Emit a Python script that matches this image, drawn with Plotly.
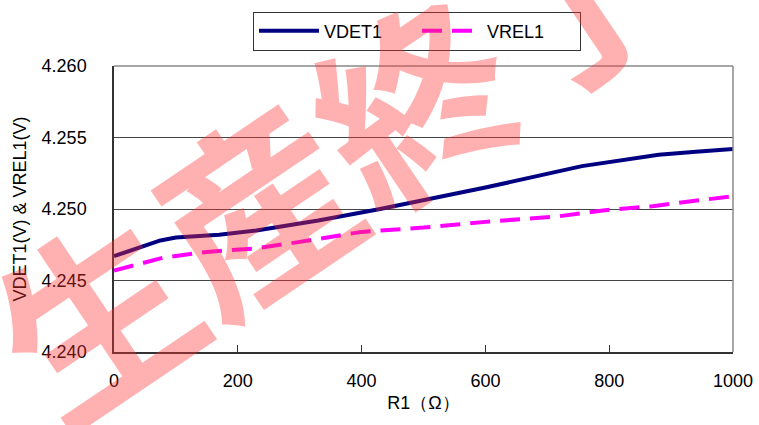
import plotly.graph_objects as go

# Detector / release voltage versus series resistor R1
r1_vdet = [0, 40, 75, 100, 170, 230, 330, 430, 500, 600, 756, 880, 940, 1000]
vdet1 = [4.2467, 4.2473, 4.2478, 4.2480, 4.2482, 4.2485, 4.2492, 4.2500,
         4.2506, 4.2515, 4.2530, 4.2538, 4.2540, 4.2542]

r1_vrel = [0, 80, 150, 230, 300, 400, 500, 600, 720, 790, 870, 1000]
vrel1 = [4.2457, 4.2466, 4.2470, 4.24725, 4.2477, 4.2484, 4.2487, 4.2491,
         4.2495, 4.2499, 4.2502, 4.2509]

y_ticks = [4.240, 4.245, 4.250, 4.255, 4.260]
y_tick_text = ["4.240", "4.245", "4.250", "4.255", "4.260"]
x_ticks = [0, 200, 400, 600, 800, 1000]

font_family = "Liberation Sans, Arial, sans-serif"

fig = go.Figure()
fig.add_trace(go.Scatter(
    x=r1_vdet, y=vdet1, mode="lines", name="VDET1",
    line=dict(color="#000080", width=4),
))
fig.add_trace(go.Scatter(
    x=r1_vrel, y=vrel1, mode="lines", name="VREL1",
    line=dict(color="#FF00FF", width=4, dash="20px,10px"),
))

fig.update_layout(
    width=759, height=425,
    margin=dict(l=114, r=26, t=66, b=73, autoexpand=False),
    paper_bgcolor="white", plot_bgcolor="white",
    font=dict(family=font_family, size=18, color="black"),
    showlegend=True,
    legend=dict(
        orientation="h", x=0.4895, xanchor="center", y=1.122, yanchor="middle",
        bordercolor="#333", borderwidth=1, bgcolor="rgba(255,255,255,0)",
        font=dict(size=18), itemwidth=60, entrywidth=88,
    ),
    xaxis=dict(
        range=[0, 1000], tickvals=x_ticks, ticks="inside", ticklen=7,
        tickcolor="#333", showgrid=False, zeroline=False,
        showline=True, linecolor="#333", linewidth=1.5, mirror=False,
        title=dict(text="R1（Ω）", font=dict(size=18), standoff=6),
        tickfont=dict(size=18), ticklabelstandoff=12,
    ),
    yaxis=dict(
        range=[4.240, 4.260], tickvals=y_ticks, ticktext=y_tick_text,
        showgrid=True, gridcolor="#444", gridwidth=1, zeroline=False,
        showline=True, linecolor="#333", linewidth=1.5,
        title=dict(text="VDET1(V) & VREL1(V)", font=dict(size=18), standoff=10),
        tickfont=dict(size=18), ticklabelstandoff=22,
    ),
    shapes=[
        # grey frame on the top and right of the plot area
        dict(type="line", xref="paper", yref="paper", x0=0, x1=1, y0=1, y1=1,
             line=dict(color="#888", width=1.5)),
        dict(type="line", xref="paper", yref="paper", x0=1, x1=1, y0=0, y1=1,
             line=dict(color="#888", width=1.5)),
    ],
    annotations=[
        dict(
            text="生産終了", xref="paper", yref="paper",
            x=(330 - 114) / 619, y=(352 - 148) / 286,
            xanchor="center", yanchor="middle", showarrow=False,
            textangle=-34,
            font=dict(family="Noto Sans CJK JP", size=192, color="rgba(255,50,50,0.38)",
                      weight="bold"),
        )
    ],
)

fig.write_html("out.html")
